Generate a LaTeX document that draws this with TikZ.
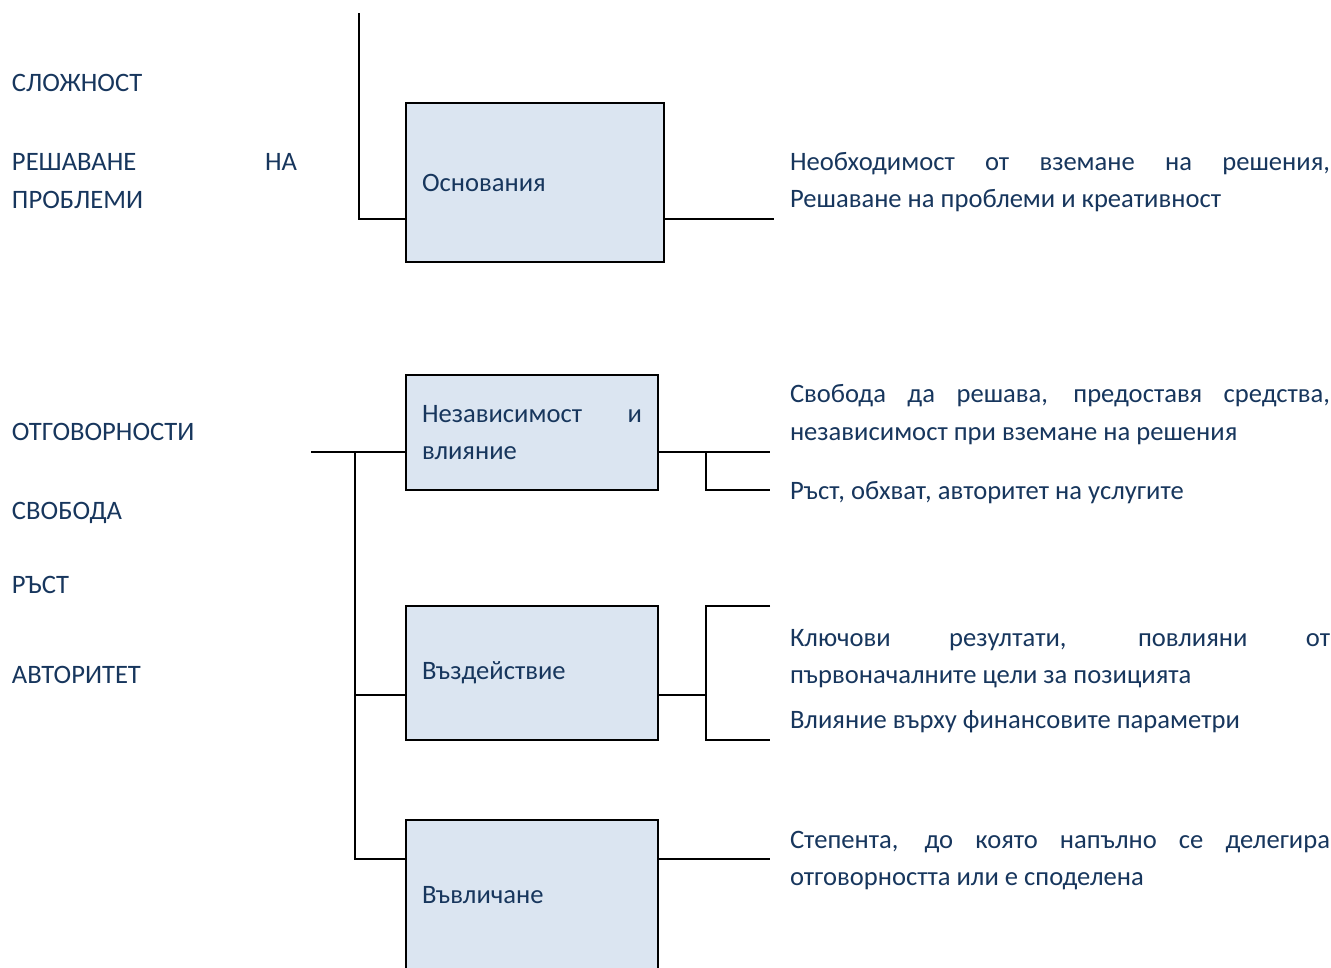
\documentclass[tikz,border=0pt]{standalone}
\usepackage{fontspec}
\setmainfont{Carlito}
\definecolor{inkblue}{HTML}{17365D}
\definecolor{boxfill}{HTML}{DBE5F1}
\tikzset{
  every picture/.style={line width=2pt},
  frame/.style={draw=black, fill=boxfill, line width=2pt, inner xsep=16pt, inner ysep=0pt,
                text=inkblue, align=left, font=\fontsize{26.6}{37}\selectfont},
  label/.style={anchor=base west, inner sep=0pt, text=inkblue, font=\fontsize{26.6}{37}\selectfont},
  wire/.style={draw=black, line width=2pt},
}
\begin{document}
\begin{tikzpicture}[x=1pt,y=-1pt]
\useasboundingbox (0,0) rectangle (1331,967);
\clip (0,0) rectangle (1331,967);

% boxes
\node[frame, text width=226pt, minimum height=159pt] (b1) at (535,182.5) {Основания};
\node[frame, text width=220pt, minimum height=115pt] (b2) at (532,432.5)
  {\makebox[220pt]{Независимост\hfill и}\\влияние};
\node[frame, text width=220pt, minimum height=134pt] (b3) at (532,673) {Въздействие};
\node[frame, text width=220pt, minimum height=150pt] (b4) at (532,895) {Въвличане};

% left-hand headings
\node[label] (h1) at (11,91) {СЛОЖНОСТ};
\node[label] (h2) at (11,170.5) {\makebox[285pt][s]{РЕШАВАНЕ НА}};
\node[label] (h3) at (11,208) {ПРОБЛЕМИ};
\node[label] (h4) at (11,440.7) {ОТГОВОРНОСТИ};
\node[label] (h5) at (11,519) {СВОБОДА};
\node[label] (h6) at (11,593) {РЪСТ};
\node[label] (h7) at (11,683) {АВТОРИТЕТ};

% right-hand descriptions
\node[label] (d1) at (789,170.5) {\makebox[540pt][s]{Необходимост от вземане на решения,}};
\node[label] (d2) at (789,207.5) {Решаване на проблеми и креативност};
\node[label] (d3) at (789,402.5) {\makebox[540pt][s]{Свобода да решава, предоставя средства,}};
\node[label] (d4) at (789,440.5) {независимост при вземане на решения};
\node[label] (d5) at (789,499.5) {Ръст, обхват, авторитет на услугите};
\node[label] (d6) at (789,646.5) {\makebox[540pt][s]{Ключови резултати, повлияни от}};
\node[label] (d7) at (789,683.5) {първоначалните цели за позицията};
\node[label] (d8) at (789,728.5) {Влияние върху финансовите параметри};
\node[label] (d9) at (789,848.5) {\makebox[540pt][s]{Степента, до която напълно се делегира}};
\node[label] (d10) at (789,885.5) {отговорността или е споделена};

% junction points
\coordinate (t0) at (359,13);
\coordinate (t1) at (359,219);
\coordinate (e1) at (774,219);
\coordinate (s0) at (311,452);
\coordinate (s1) at (355,452);
\coordinate (s3) at (355,695);
\coordinate (s4) at (355,859);
\coordinate (k2) at (706,452);
\coordinate (k3) at (706,695);
\coordinate (e2a) at (770,452);
\coordinate (e2b) at (770,490);
\coordinate (e3a) at (770,606);
\coordinate (e3b) at (770,740);
\coordinate (e4) at (770,859);

% upper group
\draw[wire] (t0) -- (t1) -- (t1 -| b1.west);
\draw[wire] (t1 -| b1.east) -- (e1);

% lower group: spine on the left
\draw[wire] (s0) -- (s0 -| b2.west);
\draw[wire] (s1) -- (s4) -- (s4 -| b4.west);
\draw[wire] (s3) -- (s3 -| b3.west);

% lower group: branches on the right
\draw[wire] (k2 -| b2.east) -- (e2a);
\draw[wire] (k2) -- (k2 |- e2b) -- (e2b);
\draw[wire] (k3 -| b3.east) -- (k3);
\draw[wire] (e3a) -- (k3 |- e3a) -- (k3 |- e3b) -- (e3b);
\draw[wire] (s4 -| b4.east) -- (e4);
\end{tikzpicture}
\end{document}
